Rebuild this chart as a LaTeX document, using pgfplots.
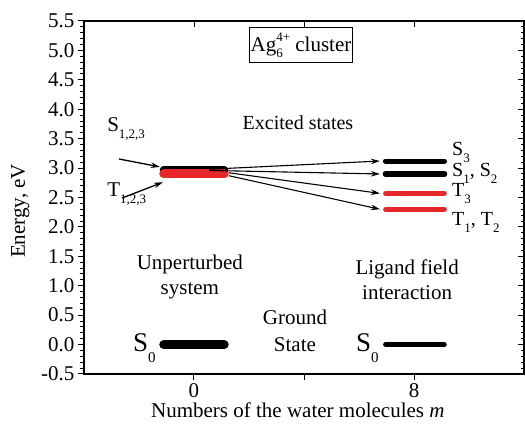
\documentclass[border=0pt]{standalone}
\usepackage{pgfplots}
\pgfplotsset{compat=1.18}
\usetikzlibrary{arrows.meta}
\usepackage{fontspec}
\setmainfont{Liberation Serif}
\definecolor{myred}{RGB}{230,38,40}
\newcommand{\lsub}[1]{\raisebox{-7pt}{\fontsize{13}{13}\selectfont #1}}
\newcommand{\fz}{\fontsize{21}{25}\selectfont}
\begin{document}
\begin{tikzpicture}
\path[use as bounding box] (-84pt,-51pt) rectangle (441pt,374pt);
% mirror axis: top/right inward ticks
\begin{axis}[at={(0,0)}, anchor=south west, scale only axis,
  width=440pt, height=353pt, xmin=-4, xmax=12, ymin=-0.5, ymax=5.5,
  xtick={0,4,8}, xticklabels={}, 
  ytick={-0.5,0,0.5,1,1.5,2,2.5,3,3.5,4,4.5,5,5.5}, yticklabels={},
  minor y tick num=4,
  xtick pos=right, ytick pos=right, tick align=inside,
  major tick length=6pt, minor tick length=3.5pt,
  every tick/.style={black, line width=1pt},
  axis line style={line width=1.3pt}]
\end{axis}
\begin{axis}[at={(0,0)}, anchor=south west, scale only axis,
  width=440pt, height=353pt, xmin=-4, xmax=12, ymin=-0.5, ymax=5.5,
  xtick={0,4,8}, xticklabels={0,,8},
  ytick={-0.5,0,0.5,1,1.5,2,2.5,3,3.5,4,4.5,5,5.5},
  yticklabels={-0.5,0.0,0.5,1.0,1.5,2.0,2.5,3.0,3.5,4.0,4.5,5.0,5.5},
  minor y tick num=4,
  xtick pos=left, ytick pos=left, tick align=outside,
  major tick length=6pt, minor tick length=3.5pt,
  every tick/.style={black, line width=1pt},
  axis line style={line width=1.3pt},
  tick label style={font=\fz},
  xlabel={Numbers of the water molecules \textit{m}},
  ylabel={Energy, eV},
  label style={font=\fz},
  xlabel style={at={(axis description cs:0.486,-0.102)}, anchor=center},
  ylabel style={at={(axis description cs:-0.145,0.462)}, anchor=center},
  clip=false]
% left levels (m = 0)
\addplot[black, line width=9pt, line cap=round] coordinates {(-1.1,0) (1.1,0)};
\addplot[black, line width=8pt, line cap=round] coordinates {(-1.1,2.97) (1.1,2.97)};
\addplot[myred, line width=9pt, line cap=round] coordinates {(-1.1,2.90) (1.1,2.90)};
% right levels (m = 8)
\addplot[black, line width=5pt, line cap=round] coordinates {(6.96,3.12) (9.11,3.12)};
\addplot[black, line width=5.5pt, line cap=round] coordinates {(6.96,2.90) (9.11,2.90)};
\addplot[myred, line width=4.5pt, line cap=round] coordinates {(6.96,2.57) (9.11,2.57)};
\addplot[myred, line width=4.5pt, line cap=round] coordinates {(6.96,2.30) (9.11,2.30)};
\addplot[black, line width=4.5pt, line cap=round] coordinates {(6.96,0) (9.11,0)};
% arrows
\addplot[black, line width=1.1pt, -{Stealth[length=9pt,width=5.5pt]}] coordinates {(0.55,2.98) (6.76,3.12)};
\addplot[black, line width=1.1pt, -{Stealth[length=9pt,width=5.5pt]}] coordinates {(0.55,2.96) (6.76,2.90)};
\addplot[black, line width=1.1pt, -{Stealth[length=9pt,width=5.5pt]}] coordinates {(1.27,2.92) (6.76,2.57)};
\addplot[black, line width=1.1pt, -{Stealth[length=9pt,width=5.5pt]}] coordinates {(1.27,2.87) (6.76,2.30)};
\addplot[black, line width=1.3pt, -{Stealth[length=9pt,width=5.5pt]}] coordinates {(-2.73,3.155) (-1.24,3.02)};
\addplot[black, line width=1.3pt, -{Stealth[length=9pt,width=5.5pt]}] coordinates {(-2.62,2.49) (-1.13,2.76)};
% texts
\node[draw, line width=0.6pt, minimum width=103pt, minimum height=35pt, inner sep=0pt, font=\fz] at (axis cs:3.89,5.09)
  {Ag\makebox[0pt][l]{\raisebox{-6pt}{\fontsize{13}{13}\selectfont 6}}\raisebox{10pt}{\fontsize{13}{13}\selectfont 4+} cluster};
\node[font=\fontsize{20}{24}\selectfont] at (axis cs:3.78,3.77) {Excited states};
\node[anchor=base west, inner sep=0pt, font=\fz] at (axis cs:-3.16,3.63) {S\lsub{1,2,3}};
\node[anchor=base west, inner sep=0pt, font=\fz] at (axis cs:-3.16,2.51) {T\lsub{1,2,3}};
\node[align=center, font=\fontsize{21}{25}\selectfont] at (axis cs:-0.15,1.15) {Unperturbed\\system};
\node[align=center, font=\fontsize{21}{27}\selectfont] at (axis cs:3.67,0.23) {Ground\\State};
\node[align=center, font=\fontsize{21}{25}\selectfont] at (axis cs:7.75,1.10) {Ligand field\\interaction};
\node[anchor=base west, inner sep=0pt, font=\fontsize{27}{27}\selectfont] at (axis cs:-2.22,-0.126)
  {S\raisebox{-11pt}{\fontsize{15}{15}\selectfont 0}};
\node[anchor=base west, inner sep=0pt, font=\fontsize{27}{27}\selectfont] at (axis cs:5.89,-0.126)
  {S\raisebox{-11pt}{\fontsize{15}{15}\selectfont 0}};
\node[anchor=base west, inner sep=0pt, font=\fontsize{20}{24}\selectfont] at (axis cs:9.38,3.22) {S\lsub{3}};
\node[anchor=base west, inner sep=0pt, font=\fontsize{20}{24}\selectfont] at (axis cs:9.38,2.85) {S\lsub{1}, S\lsub{2}};
\node[anchor=base west, inner sep=0pt, font=\fontsize{20}{24}\selectfont] at (axis cs:9.38,2.51) {T\lsub{3}};
\node[anchor=base west, inner sep=0pt, font=\fontsize{20}{24}\selectfont] at (axis cs:9.38,2.03) {T\lsub{1}, T\lsub{2}};
\end{axis}
\end{tikzpicture}
\end{document}
